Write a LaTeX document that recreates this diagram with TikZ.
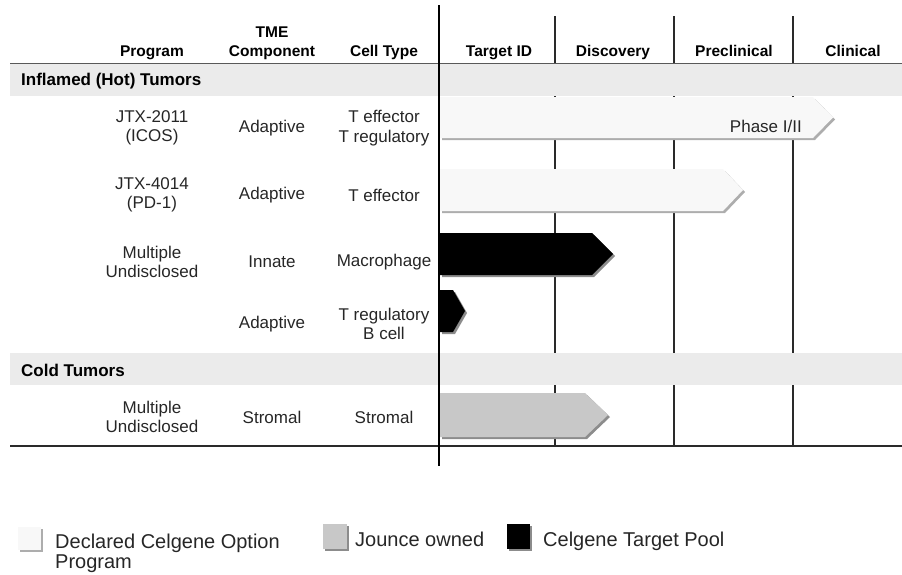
\documentclass[tikz,border=0pt]{standalone}
\usepackage{fontspec}
\setmainfont{Liberation Sans}
\usetikzlibrary{positioning,shadows}

\definecolor{bandgray}{HTML}{EBEBEB}
\definecolor{optfill}{HTML}{F8F8F8}
\definecolor{ownfill}{HTML}{C8C8C8}
\definecolor{gridline}{HTML}{2A2A2A}

\tikzset{
  head/.style={font=\fontsize{15.5}{18}\selectfont\bfseries, inner sep=0pt},
  txt/.style={font=\fontsize{17}{19.5}\selectfont, align=center, inner sep=0pt, text=black!85},
  group/.style={font=\fontsize{17}{20}\selectfont\bfseries, inner sep=0pt, anchor=west},
  legtxt/.style={font=\fontsize{20}{24}\selectfont, inner sep=0pt, anchor=base west, text=black!85},
  barshadow/.style={drop shadow={shadow xshift=2pt, shadow yshift=-2pt, opacity=1, fill=#1}},
}

\begin{document}
\begin{tikzpicture}[x=1pt, y=-1pt]
\useasboundingbox (0,0) rectangle (902,574);

% stage separators, the bands go over them
\foreach \x in {555,674,793}
  \draw[gridline, line width=1.3pt] (\x,16) -- (\x,446);
\fill[bandgray] (10,64) rectangle (902,96);
\fill[bandgray] (10,353) rectangle (902,385);
\draw[black!65, line width=1pt] (10,63) -- (902,63);
\draw[gridline, line width=1.3pt] (10,446) -- (902,446);

% column heads
\node[head, anchor=base] (prog) at (152,56) {Program};
\node[head, anchor=base] (comp) at (272,56) {Component};
\node[head, above=7pt of comp] (tme) {TME};
\node[head, anchor=base] (cell) at (384,56) {Cell Type};
\node[head, anchor=base] (tid) at (499,56) {Target ID};
\node[head, anchor=base] (disc) at (613,56) {Discovery};
\node[head, anchor=base] (precl) at (734,56) {Preclinical};
\node[head, anchor=base] (clin) at (853,56) {Clinical};

\node[group] (hot) at (21,81) {Inflamed (Hot) Tumors};
\node[group] (cold) at (21,370) {Cold Tumors};

% programs
\node[txt] (r1prog) at (prog |- 0,128) {JTX-2011\\(ICOS)};
\node[txt] (r1tme) at (comp |- r1prog) {Adaptive};
\node[txt] (r1cell) at (cell |- r1prog) {T effector\\T regulatory};

\node[txt] (r2prog) at (prog |- 0,195) {JTX-4014\\(PD-1)};
\node[txt] (r2tme) at (comp |- r2prog) {Adaptive};
\node[txt] (r2cell) at (cell |- r2prog) {T effector};

\node[txt] (r3prog) at (prog |- 0,262) {Multiple\\Undisclosed};
\node[txt] (r3tme) at (comp |- r3prog) {Innate};
\node[txt] (r3cell) at (cell |- r3prog) {Macrophage};

\node[txt] (r4tme) at (comp |- 0,324) {Adaptive};
\node[txt] (r4cell) at (cell |- r4tme) {T regulatory\\B cell};

\node[txt] (r5prog) at (prog |- 0,417) {Multiple\\Undisclosed};
\node[txt] (r5tme) at (comp |- r5prog) {Stromal};
\node[txt] (r5cell) at (cell |- r5prog) {Stromal};

% stage bars
\foreach \yt/\yb/\xe/\xt/\c/\s in {97/138/813/833/optfill/black!32,
    169/211/723/743/optfill/black!32, 233/275/592/613/black/black!45,
    290/332/453/465/black/black!45, 393/437/585/608/ownfill/black!45}
  \fill[\c, barshadow=\s] (440,\yt) -- (\xe,\yt) -- (\xt,{(\yt+\yb)/2})
    -- (\xe,\yb) -- (440,\yb) -- cycle;
\node[txt, anchor=east] (phase) at (802,126) {Phase I/II};

\draw[line width=2.6pt] (439,5) -- (439,466);

% legend
\fill[optfill, barshadow=black!32] (18,527) rectangle (41,550);
\node[legtxt] (optlbl) at (55,548) {Declared Celgene Option};
\node[legtxt] (optlbl2) at ([yshift=-20pt]optlbl.base west) {Program};
\fill[ownfill, barshadow=black!45] (323,524) rectangle (347,549);
\node[legtxt] (ownlbl) at (355,546) {Jounce owned};
\fill[black, barshadow=black!45] (507,524) rectangle (530,549);
\node[legtxt] (poollbl) at (543,546) {Celgene Target Pool};
\end{tikzpicture}
\end{document}
